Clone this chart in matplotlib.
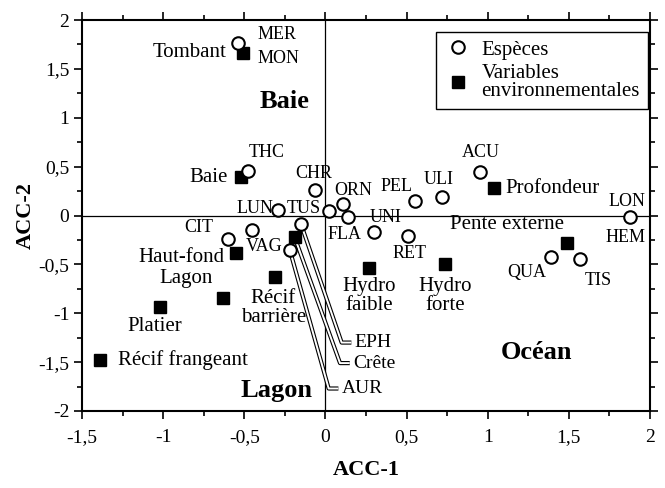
import numpy as np
import matplotlib
matplotlib.use('Agg')
import matplotlib.pyplot as plt
from matplotlib.ticker import FuncFormatter, MultipleLocator

plt.rcParams['font.family'] = ['Liberation Serif', 'DejaVu Serif']

# species (open circles)
sp_names = ['MER', 'THC', 'CHR', 'LUN', 'TUS', 'ORN', 'FLA', 'UNI', 'PEL', 'ULI',
            'ACU', 'RET', 'LON', 'QUA', 'TIS', 'CIT', 'VAG', 'EPH', 'AUR']
sp_x = [-0.54, -0.48, -0.065, -0.29, 0.02, 0.11, 0.14, 0.30, 0.55, 0.72,
        0.95, 0.51, 1.88, 1.39, 1.57, -0.60, -0.45, -0.15, -0.22]
sp_y = [1.76, 0.46, 0.26, 0.06, 0.05, 0.12, -0.02, -0.17, 0.15, 0.19,
        0.44, -0.21, -0.02, -0.42, -0.45, -0.24, -0.15, -0.09, -0.35]

# environmental variables (filled squares)
env_names = ['Tombant', 'Baie', 'Profondeur', 'Pente externe', 'Hydro faible',
             'Hydro forte', 'Haut-fond', 'Lagon', 'Récif barrière', 'Platier',
             'Récif frangeant', 'Crête']
env_x = [-0.51, -0.52, 1.04, 1.49, 0.27, 0.74, -0.55, -0.63, -0.31, -1.02, -1.39, -0.19]
env_y = [1.66, 0.39, 0.28, -0.28, -0.54, -0.50, -0.38, -0.84, -0.63, -0.94, -1.48, -0.22]

# label placement (text, x, y, ha)
sp_labels = [('MER', -0.42, 1.85, 'left'), ('MON', -0.42, 1.61, 'left'),
             ('THC', -0.36, 0.64, 'center'), ('CHR', -0.07, 0.43, 'center'),
             ('LUN', -0.32, 0.07, 'right'), ('TUS', -0.24, 0.07, 'left'),
             ('ORN', 0.17, 0.26, 'center'), ('PEL', 0.44, 0.30, 'center'),
             ('ULI', 0.70, 0.37, 'center'), ('ACU', 0.96, 0.64, 'center'),
             ('LON', 1.86, 0.14, 'center'), ('HEM', 1.85, -0.23, 'center'),
             ('UNI', 0.37, -0.02, 'center'), ('FLA', 0.12, -0.19, 'center'),
             ('RET', 0.52, -0.39, 'center'), ('QUA', 1.24, -0.58, 'center'),
             ('TIS', 1.68, -0.67, 'center'), ('CIT', -0.78, -0.12, 'center'),
             ('VAG', -0.38, -0.32, 'center')]
env_labels = [('Tombant', -0.61, 1.67, 'right'), ('Baie', -0.60, 0.39, 'right'),
              ('Profondeur', 1.11, 0.28, 'left'), ('Pente externe', 1.12, -0.09, 'center'),
              ('Hydro\nfaible', 0.27, -0.82, 'center'), ('Hydro\nforte', 0.74, -0.82, 'center'),
              ('Haut-fond', -0.62, -0.43, 'right'), ('Lagon', -0.86, -0.64, 'center'),
              ('Récif\nbarrière', -0.32, -0.95, 'center'), ('Platier', -1.05, -1.14, 'center'),
              ('Récif frangeant', -1.28, -1.48, 'left')]
zones = [('Baie', -0.25, 1.17), ('Lagon', -0.30, -1.79), ('Océan', 1.30, -1.40)]

# leader lines: start point -> corner -> label
leaders = [('EPH', (-0.15, -0.09), (0.10, -1.30)),
           ('Crête', (-0.19, -0.22), (0.09, -1.51)),
           ('AUR', (-0.22, -0.35), (0.02, -1.77))]

fig = plt.figure(figsize=(6.65, 4.88), dpi=100)
ax = fig.add_axes([0.1233, 0.1578, 0.8541, 0.8012])

ax.axhline(0, color='k', lw=0.9, zorder=1)
ax.axvline(0, color='k', lw=0.9, zorder=1)

for name, (x0, y0), (x1, y1) in leaders:
    xs = [x0, x1, x1 + 0.06]
    ys = [y0, y1, y1]
    ax.plot(xs, ys, color='k', lw=3.0, solid_capstyle='butt', zorder=2)
    ax.plot(xs, ys, color='white', lw=1.4, solid_capstyle='butt', zorder=2)
    ax.text(x1 + 0.08, y1, name, fontsize=14, va='center', ha='left')

ax.plot(sp_x, sp_y, 'o', ms=9, mfc='white', mec='k', mew=1.5, ls='none', zorder=4,
        label='Espèces')
ax.plot(env_x, env_y, 's', ms=9, mfc='k', mec='k', ls='none', zorder=3,
        label='Variables\nenvironnementales')

for t, x, y, ha in sp_labels:
    ax.text(x, y, t, fontsize=13, ha=ha, va='center')
for t, x, y, ha in env_labels:
    ax.text(x, y, t, fontsize=15, ha=ha, va='center', linespacing=1.0)
for t, x, y in zones:
    ax.text(x, y, t, fontsize=19, fontweight='bold', ha='center', va='center')

ax.set_xlim(-1.5, 2)
ax.set_ylim(-2, 2)
ax.xaxis.set_major_locator(MultipleLocator(0.5))
ax.yaxis.set_major_locator(MultipleLocator(0.5))
ax.xaxis.set_minor_locator(MultipleLocator(0.25))
ax.yaxis.set_minor_locator(MultipleLocator(0.25))
fmt = FuncFormatter(lambda v, p: ('%g' % v).replace('.', ','))
ax.xaxis.set_major_formatter(fmt)
ax.yaxis.set_major_formatter(fmt)
ax.tick_params(which='both', direction='out', top=True, right=True, width=1.2,
               labelsize=14, pad=3)
ax.tick_params(axis='x', which='major', pad=7)
ax.tick_params(which='major', length=6)
ax.tick_params(which='minor', length=3.5)
ax.tick_params(labeltop=False, labelright=False)
for s in ax.spines.values():
    s.set_linewidth(1.5)

ax.set_xlabel('ACC-1', fontsize=16, fontweight='bold', labelpad=10)
ax.set_ylabel('ACC-2', fontsize=16, fontweight='bold', labelpad=2)

leg = ax.legend(loc='upper right', bbox_to_anchor=(0.997, 0.97), fontsize=15,
                fancybox=False, edgecolor='k', framealpha=1, handletextpad=0.5,
                borderpad=0.4, labelspacing=0.2, handlelength=1.3,
                borderaxespad=0)
leg.get_frame().set_linewidth(1.0)
for t in leg.get_texts():
    t.set_linespacing(0.95)

plt.savefig('out.png', dpi=100)
